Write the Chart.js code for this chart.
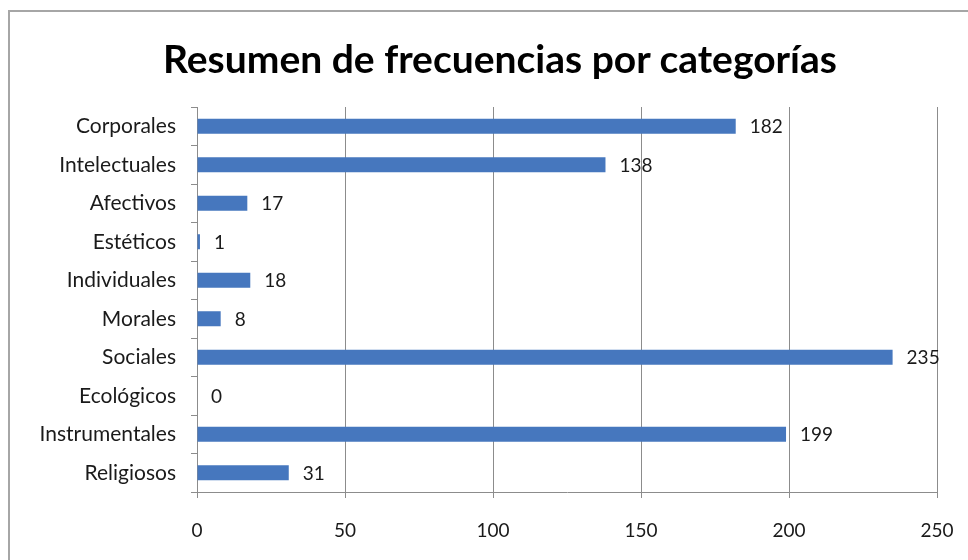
<!DOCTYPE html>
<html>
<head>
<meta charset="utf-8">
<script src="https://cdn.jsdelivr.net/npm/chart.js@4.4.0/dist/chart.umd.min.js"></script>
<style>
  html, body { margin: 0; padding: 0; background: #fff; }
  #wrap { position: relative; width: 968px; height: 560px; overflow: hidden; }
  #frame {
    position: absolute; left: 8px; top: 10px; width: 1000px; height: 600px;
    border-top: 2px solid #a6a6a6; border-left: 2px solid #a6a6a6;
  }
  canvas { position: absolute; left: 0; top: 0; }
  #title {
    position: absolute; left: 32px; width: 936px; top: 35px; height: 47px;
    line-height: 47px; text-align: center; white-space: nowrap;
    font: bold 39px Lato, "Open Sans", sans-serif; color: #000;
  }
</style>
</head>
<body>
<div id="wrap">
  <div id="frame"></div>
  <canvas id="chart" width="968" height="560"></canvas>
  <div id="title">Resumen de frecuencias por categorías</div>
</div>
<script>
// Chart data
const categories = ['Corporales', 'Intelectuales', 'Afectivos', 'Estéticos', 'Individuales',
  'Morales', 'Sociales', 'Ecológicos', 'Instrumentales', 'Religiosos'];
const frecuencias = [182, 138, 17, 1, 18, 8, 235, 0, 199, 31];
const xTicks = [0, 50, 100, 150, 200, 250];

const FONT = 'Lato, "Open Sans", sans-serif';
const gridGray = '#8c8c8c';

// Draws the value next to the end of each bar
const valueLabels = {
  id: 'valueLabels',
  afterDatasetsDraw(chart) {
    const ctx = chart.ctx;
    const meta = chart.getDatasetMeta(0);
    ctx.save();
    ctx.font = '19px ' + FONT;
    ctx.fillStyle = '#1a1a1a';
    ctx.textAlign = 'left';
    ctx.textBaseline = 'middle';
    meta.data.forEach((bar, i) => {
      ctx.fillText(String(chart.data.datasets[0].data[i]), bar.x + 14, bar.y + 1);
    });
    ctx.restore();
  }
};

new Chart(document.getElementById('chart'), {
  type: 'bar',
  data: {
    labels: categories,
    datasets: [{
      data: frecuencias,
      backgroundColor: '#4677be',
      borderWidth: 0,
      categoryPercentage: 1,
      barPercentage: 0.39
    }]
  },
  options: {
    indexAxis: 'y',
    responsive: false,
    animation: false,
    layout: { padding: { left: 0, right: 31, top: 107, bottom: 0 } },
    plugins: {
      legend: { display: false },
      tooltip: { enabled: false },
      title: { display: false }
    },
    scales: {
      x: {
        min: 0,
        max: 250,
        afterBuildTicks: axis => { axis.ticks = xTicks.map(v => ({ value: v })); },
        afterFit: axis => {
          axis.height = 68;
          axis.paddingLeft = 0;
          axis.paddingRight = 0;
        },
        grid: { color: gridGray, lineWidth: 1, tickLength: 6, tickColor: gridGray },
        border: { color: gridGray, width: 1 },
        ticks: { color: '#1a1a1a', padding: 21, font: { family: FONT, size: 19 } }
      },
      y: {
        afterFit: axis => { axis.width = 197; },
        grid: { drawOnChartArea: false, offset: true, tickLength: 6, tickColor: gridGray },
        border: { color: gridGray, width: 1 },
        ticks: { color: '#1a1a1a', padding: 15, font: { family: FONT, size: 21 } }
      }
    }
  },
  plugins: [valueLabels]
});
</script>
</body>
</html>
